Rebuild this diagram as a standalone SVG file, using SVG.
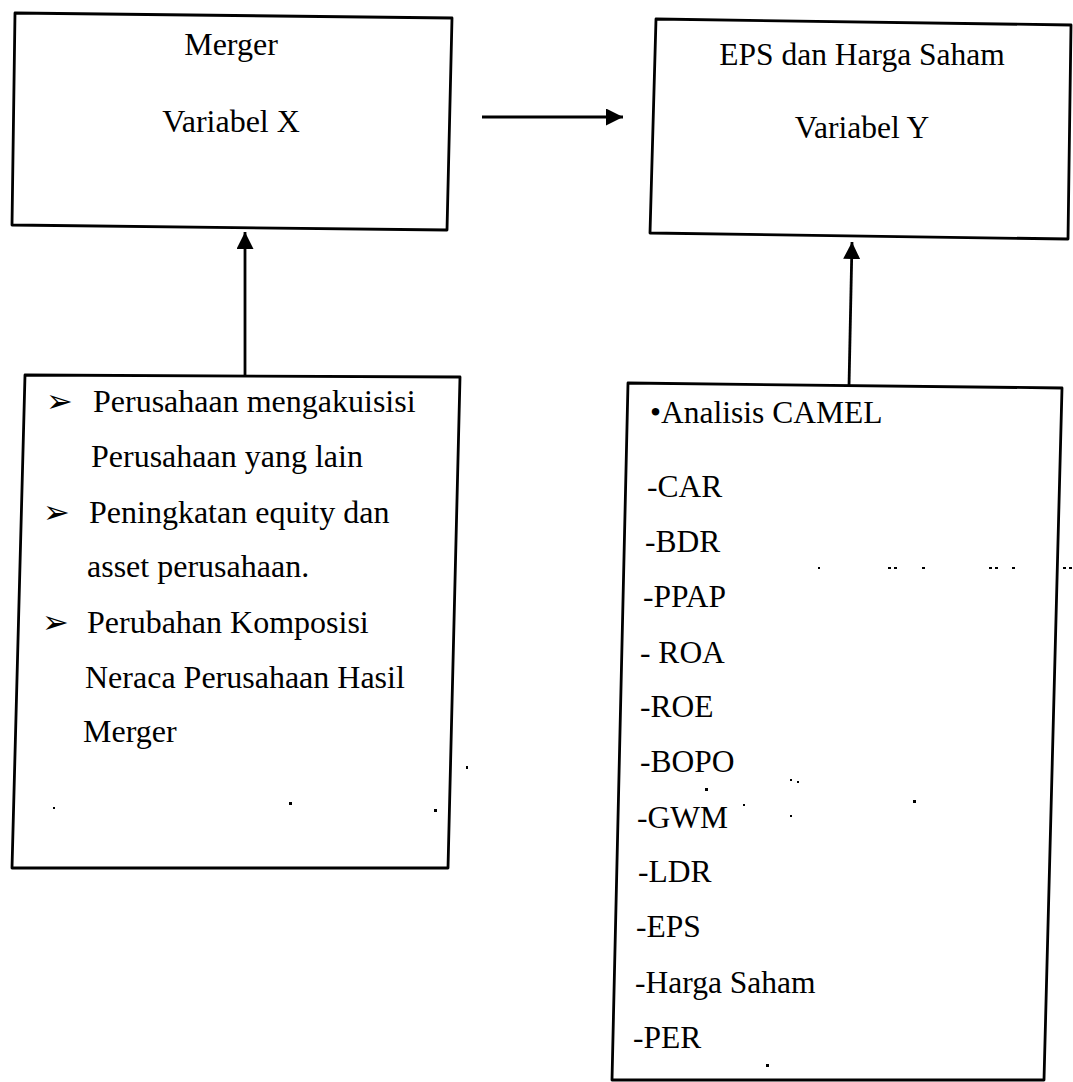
<svg xmlns="http://www.w3.org/2000/svg" width="1073" height="1082" viewBox="0 0 1073 1082">
<style>
.box{fill:none;stroke:#000;stroke-width:2.8;stroke-linejoin:round}
.t{font-family:"Liberation Serif","Times New Roman",serif;font-size:31.5px;fill:#000}
.l{font-size:32px}
.c{text-anchor:middle}
.conn{stroke:#000;stroke-width:2.8;fill:none}
.speck{fill:#000}
</style>
<defs>
<marker id="ah" markerUnits="userSpaceOnUse" markerWidth="17" markerHeight="17" viewBox="0 0 10 10" refX="10" refY="5" orient="auto">
<path d="M0,0 L10,5 L0,10 z" fill="#000"/>
</marker>
</defs>
<g id="node-merger">
<polygon class="box" points="15,13 452,18 447,230 12,225"/>
<text class="t l c" x="231" y="55">Merger</text>
<text class="t l c" x="231" y="132">Variabel X</text>
</g>
<g id="node-eps">
<polygon class="box" points="656,19 1071,25 1068,239 650,233"/>
<text class="t c" x="862" y="65">EPS dan Harga Saham</text>
<text class="t c" x="862" y="138">Variabel Y</text>
</g>
<g id="node-merger-factors">
<polygon class="box" points="25,375 460,377 448,868 12,868"/>
<text class="t l" x="46" y="412">➢</text>
<text class="t l" x="93" y="412">Perusahaan mengakuisisi</text>
<text class="t l" x="91" y="467">Perusahaan yang lain</text>
<text class="t l" x="43" y="523">➢</text>
<text class="t l" x="89" y="523">Peningkatan equity dan</text>
<text class="t l" x="87" y="577">asset perusahaan.</text>
<text class="t l" x="42" y="633">➢</text>
<text class="t l" x="87" y="633">Perubahan Komposisi</text>
<text class="t l" x="85" y="688">Neraca Perusahaan Hasil</text>
<text class="t l" x="83" y="742">Merger</text>
</g>
<g id="node-camel">
<polygon class="box" points="628,383 1062,388 1044,1080 612,1080"/>
<text class="t" x="650" y="423">•Analisis CAMEL</text>
<text class="t" x="647" y="497">-CAR</text>
<text class="t" x="645" y="552">-BDR</text>
<text class="t" x="643" y="607">-PPAP</text>
<text class="t" x="640" y="663">- ROA</text>
<text class="t" x="640" y="717">-ROE</text>
<text class="t" x="640" y="772">-BOPO</text>
<text class="t" x="637" y="828">-GWM</text>
<text class="t" x="638" y="882">-LDR</text>
<text class="t" x="636" y="937">-EPS</text>
<text class="t" x="635" y="993">-Harga Saham</text>
<text class="t" x="633" y="1048">-PER</text>
</g>
<g id="connectors">
<line class="conn" x1="482" y1="117" x2="623" y2="117" marker-end="url(#ah)"/>
<line class="conn" x1="245" y1="376" x2="245" y2="232" marker-end="url(#ah)"/>
<line class="conn" x1="849" y1="386" x2="852" y2="242" marker-end="url(#ah)"/>
</g>
<g id="specks">
<rect class="speck" x="818" y="567" width="2" height="2"/>
<rect class="speck" x="888" y="567" width="3" height="2"/>
<rect class="speck" x="894" y="567" width="3" height="2"/>
<rect class="speck" x="922" y="567" width="3" height="2"/>
<rect class="speck" x="989" y="567" width="3" height="2"/>
<rect class="speck" x="995" y="567" width="3" height="2"/>
<rect class="speck" x="1012" y="567" width="3" height="2"/>
<rect class="speck" x="1063" y="567" width="3" height="2"/>
<rect class="speck" x="1069" y="567" width="3" height="2"/>
<rect class="speck" x="466" y="766" width="2" height="3"/>
<rect class="speck" x="53" y="807" width="2" height="2"/>
<rect class="speck" x="289" y="802" width="3" height="3"/>
<rect class="speck" x="434" y="809" width="3" height="3"/>
<rect class="speck" x="790" y="779" width="2" height="2"/>
<rect class="speck" x="797" y="781" width="2" height="2"/>
<rect class="speck" x="705" y="788" width="3" height="3"/>
<rect class="speck" x="913" y="800" width="3" height="3"/>
<rect class="speck" x="790" y="815" width="2" height="2"/>
<rect class="speck" x="743" y="804" width="2" height="2"/>
<rect class="speck" x="766" y="1064" width="3" height="3"/>
</g>
</svg>
